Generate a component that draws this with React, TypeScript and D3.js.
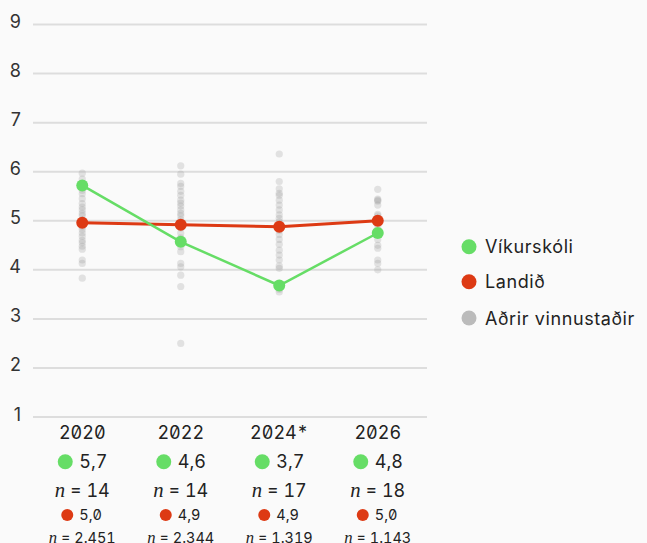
import { scaleLinear, scaleBand, line, formatLocale } from "d3";

const years = ["2020", "2022", "2024*", "2026"];
const schoolValues = [5.72, 4.57, 3.68, 4.75];
const countryValues = [4.96, 4.92, 4.88, 5.0];
const schoolN = [14, 14, 17, 18];
const countryN = [2451, 2344, 1319, 1143];

const others2020 = [5.97, 5.85, 5.75, 5.62, 5.55, 5.45, 5.35, 5.28, 5.22, 5.15, 5.1, 5.02, 4.95, 4.88, 4.82, 4.75, 4.68, 4.6, 4.55, 4.48, 4.42, 4.2, 4.13, 3.83];
const others2022 = [6.12, 5.95, 5.76, 5.7, 5.6, 5.52, 5.42, 5.36, 5.3, 5.22, 5.15, 5.1, 5.02, 4.95, 4.85, 4.75, 4.65, 4.55, 4.47, 4.37, 4.13, 4.06, 3.89, 3.66, 2.5];
const others2024 = [6.36, 5.8, 5.65, 5.56, 5.52, 5.42, 5.32, 5.22, 5.12, 5.05, 4.98, 4.9, 4.8, 4.72, 4.62, 4.52, 4.4, 4.3, 4.2, 4.08, 4.03, 3.6, 3.55];
const others2026 = [5.64, 5.44, 5.42, 5.4, 5.32, 5.13, 5.1, 5.05, 4.95, 4.88, 4.62, 4.5, 4.44, 4.2, 4.13, 4.0];
const others = [others2020, others2022, others2024, others2026];

const yTicks = [1, 2, 3, 4, 5, 6, 7, 8, 9];
const legendLabels = ["Víkurskóli", "Landið", "Aðrir vinnustaðir"];

const width = 647;
const height = 543;
const green = "#66dd66";
const red = "#dd3a14";
const grey = "#bbbbbb";
const font = "Inter, 'Noto Sans', sans-serif";

const is = formatLocale({ decimal: ",", thousands: ".", grouping: [3], currency: ["", " kr."] });
const fmt1 = is.format(".1f");
const fmtN = is.format(",d");

const x = scaleBand().domain(years).range([33, 427]);
const y = scaleLinear().domain([1, 9]).range([417, 24.5]);
const cx = (i: number) => x(years[i])! + x.bandwidth() / 2;

const lineGen = line<number>()
  .x((_, i) => cx(i))
  .y((d) => y(d));

// italic "n" like a math symbol
const N = ({ children, size }: { children: string; size: number }) => (
  <>
    <tspan fontStyle="italic" fontFamily="'Liberation Serif', serif" fontSize={size * 1.15}>n</tspan>
    {children}
  </>
);

const numStyle = { fontVariantNumeric: "slashed-zero tabular-nums", fontFeatureSettings: "'zero' 1, 'tnum' 1" };

export default function App() {
  const legendColors = [green, red, grey];
  return (
    <svg
      width={width}
      height={height}
      style={{ position: "absolute", left: 0, top: 0, display: "block" }}
      fontFamily={font}
    >
      <rect width={width} height={height} fill="#fafafa" />

      {/* grid + y labels */}
      {yTicks.map((t) => (
        <g key={t}>
          <line x1={33} x2={427} y1={y(t)} y2={y(t)} stroke="#dddddd" strokeWidth={2} />
          <text x={21} y={y(t) + 3.5} textAnchor="end" fontSize={18} fill="#333">
            {t}
          </text>
        </g>
      ))}

      {/* other workplaces */}
      {others.map((vals, i) =>
        vals.map((v, j) => (
          <circle key={`${i}-${j}`} cx={cx(i)} cy={y(v)} r={3.6} fill="#999" fillOpacity={0.25} />
        ))
      )}

      <path d={lineGen(countryValues)!} fill="none" stroke={red} strokeWidth={3} />
      <path d={lineGen(schoolValues)!} fill="none" stroke={green} strokeWidth={2.5} />
      {countryValues.map((v, i) => (
        <circle key={i} cx={cx(i)} cy={y(v)} r={6} fill={red} />
      ))}
      {schoolValues.map((v, i) => (
        <circle key={i} cx={cx(i)} cy={y(v)} r={6} fill={green} />
      ))}

      {/* bottom labels */}
      <g fill="#222">
        {years.map((yr, i) => {
          const c = cx(i);
          return (
            <g key={yr}>
              <text x={c} y={438.5} textAnchor="middle" fontSize={18} style={numStyle}>{yr}</text>
              <circle cx={c - 17} cy={461.7} r={7.5} fill={green} />
              <text x={c - 3} y={468} fontSize={18} style={numStyle}>{fmt1(schoolValues[i])}</text>
              <text x={c} y={496.5} textAnchor="middle" fontSize={18} style={numStyle}>
                <N size={18}>{` = ${schoolN[i]}`}</N>
              </text>
              <circle cx={c - 15} cy={515} r={6} fill={red} />
              <text x={c - 3} y={520.3} fontSize={14.5} style={numStyle}>{fmt1(countryValues[i])}</text>
              <text x={c} y={543} textAnchor="middle" fontSize={14.5} style={numStyle}>
                <N size={14.5}>{` = ${fmtN(countryN[i])}`}</N>
              </text>
            </g>
          );
        })}
      </g>

      {/* legend */}
      {legendLabels.map((l, i) => {
        const ly = [246.7, 281.7, 318][i];
        return (
          <g key={l}>
            <circle cx={469} cy={ly} r={7.5} fill={legendColors[i]} />
            <text x={485} y={ly + 6.5} fontSize={18} fill="#222" letterSpacing={0.6}>{l}</text>
          </g>
        );
      })}
    </svg>
  );
}
